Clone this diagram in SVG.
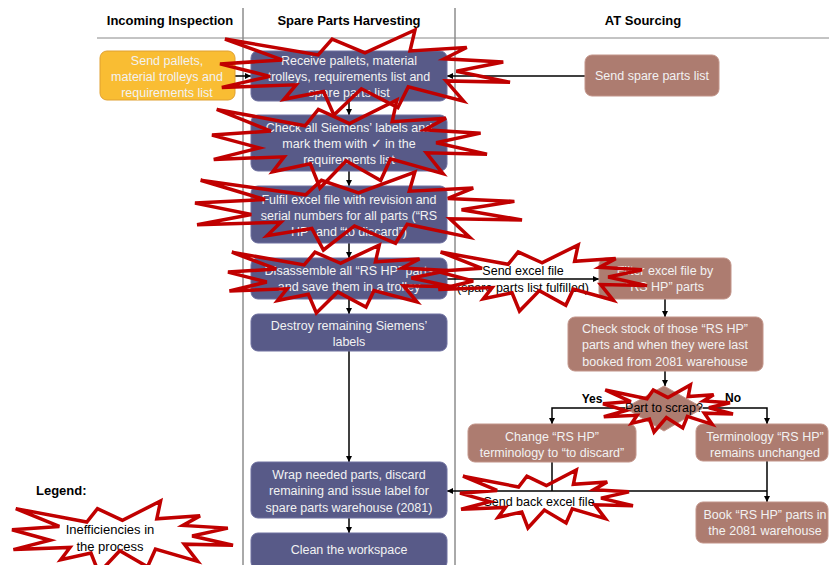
<svg xmlns="http://www.w3.org/2000/svg" xmlns:xlink="http://www.w3.org/1999/xlink" width="829" height="565" viewBox="0 0 829 565">
<defs>
<marker id="arr" viewBox="0 0 10 10" refX="10" refY="5" markerWidth="6" markerHeight="6" orient="auto" markerUnits="userSpaceOnUse">
<path d="M0,0 L10,5 L0,10 Z" fill="#000"/>
</marker>
<path id="burst" vector-effect="non-scaling-stroke" d="M50,26.85 L38.67,10.63 33.85,29.26 1.71,10.63 21.42,35.26 0,39.88 17.23,54.51 0.63,67.53 26.24,64.52 22.05,81.56 35.72,72.35 39.28,100 48.76,69.14 61.33,91.38 64.91,66.93 84,83.77 77.95,59.92 100,61.53 81.51,48.5 97.67,37.67 77.32,33.87 85.09,20.63 65.53,24.65 67.23,0Z"/>
</defs>
<style>
text{font-family:"Liberation Sans",Arial,sans-serif;}
.hd{font-size:13px;font-weight:bold;fill:#000;text-anchor:middle;}
.bx{font-size:12.5px;fill:#F2F2F2;text-anchor:middle;}
.lb{font-size:12.5px;fill:#000;text-anchor:middle;}
.yn{font-size:12px;font-weight:bold;fill:#000;text-anchor:middle;}
.purple{fill:#585A88;stroke:#6E70A0;stroke-width:1;}
.brown{fill:#AD7C70;stroke:#C29489;stroke-width:1;}
.yellow{fill:#F9BD33;stroke:#E0A030;stroke-width:1;}
.lane{stroke:#555;stroke-width:1;fill:none;}
.conn{stroke:#000;stroke-width:1.5;fill:none;}
.arrow{marker-end:url(#arr);}
.star{fill:none;stroke:#C00000;stroke-width:3.5;stroke-linejoin:miter;}
</style>
<rect width="829" height="565" fill="#fff"/>
<g id="lanes">
<line class="lane" x1="243" y1="8" x2="243" y2="565"/>
<line class="lane" x1="455" y1="8" x2="455" y2="565"/>
<line x1="97" y1="38" x2="829" y2="38" stroke="#888" stroke-width="1"/>
<text class="hd" x="170" y="25">Incoming Inspection</text>
<text class="hd" x="349" y="25">Spare Parts Harvesting</text>
<text class="hd" x="643" y="25">AT Sourcing</text>
</g>
<g id="connectors">
<line class="conn arrow" x1="235" y1="76" x2="251" y2="76"/>
<line class="conn arrow" x1="585" y1="76" x2="447" y2="76"/>
<line class="conn arrow" x1="349" y1="101" x2="349" y2="115"/>
<line class="conn arrow" x1="349" y1="171" x2="349" y2="186"/>
<line class="conn arrow" x1="349" y1="243" x2="349" y2="258"/>
<line class="conn arrow" x1="349" y1="299" x2="349" y2="314"/>
<line class="conn arrow" x1="349" y1="351" x2="349" y2="462"/>
<line class="conn arrow" x1="349" y1="518" x2="349" y2="533"/>
<line class="conn arrow" x1="447" y1="279" x2="599" y2="279"/>
<line class="conn arrow" x1="665" y1="299" x2="665" y2="317"/>
<line class="conn arrow" x1="665" y1="371" x2="665" y2="386"/>
<polyline class="conn arrow" points="625,408 552,408 552,424"/>
<polyline class="conn arrow" points="703,408 767,408 767,424"/>
<line class="conn arrow" x1="767" y1="461" x2="767" y2="502"/>
<line class="conn" x1="552" y1="462" x2="552" y2="491"/>
<line class="conn arrow" x1="767" y1="491" x2="447" y2="491"/>
<text class="lb" x="523" y="275">Send excel file</text>
<text class="lb" x="523" y="292">(spare parts list fulfilled)</text>
<text class="yn" x="592" y="403">Yes</text>
<text class="yn" x="733" y="402">No</text>
<text class="lb" x="539" y="506">Send back excel file</text>
</g>
<g id="n-send-pallets">
<rect class="yellow" x="100" y="51" width="135" height="49" rx="7"/>
<text class="bx" x="167" y="64.5">Send pallets,</text>
<text class="bx" x="167" y="80.5">material trolleys and</text>
<text class="bx" x="167" y="96.5">requirements list</text>
</g>
<g id="n-receive">
<rect class="purple" x="251" y="51" width="196" height="50" rx="7"/>
<text class="bx" x="349" y="64.5">Receive pallets, material</text>
<text class="bx" x="349" y="80.5">trolleys, requirements list and</text>
<text class="bx" x="349" y="96.5">spare parts list</text>
</g>
<g id="n-check-labels">
<rect class="purple" x="251" y="115" width="196" height="56" rx="7"/>
<text class="bx" x="349" y="131.5">Check all Siemens’ labels and</text>
<text class="bx" x="349" y="147.5">mark them with ✓ in the</text>
<text class="bx" x="349" y="164">requirements list</text>
</g>
<g id="n-fulfil">
<rect class="purple" x="251" y="186" width="196" height="57" rx="7"/>
<text class="bx" x="349" y="203.5">Fulfil excel file with revision and</text>
<text class="bx" x="349" y="219.5">serial numbers for all parts (“RS</text>
<text class="bx" x="349" y="236">HP” and “to discard”)</text>
</g>
<g id="n-disassemble">
<rect class="purple" x="251" y="258" width="196" height="41" rx="7"/>
<text class="bx" x="349" y="274.5">Disassemble all “RS HP” parts</text>
<text class="bx" x="349" y="291">and save them in a trolley</text>
</g>
<g id="n-destroy">
<rect class="purple" x="251" y="314" width="196" height="37" rx="7"/>
<text class="bx" x="349" y="330">Destroy remaining Siemens’</text>
<text class="bx" x="349" y="346">labels</text>
</g>
<g id="n-wrap">
<rect class="purple" x="251" y="462" width="196" height="56" rx="7"/>
<text class="bx" x="349" y="478.5">Wrap needed parts, discard</text>
<text class="bx" x="349" y="495">remaining and issue label for</text>
<text class="bx" x="349" y="512">spare parts warehouse (2081)</text>
</g>
<g id="n-clean">
<rect class="purple" x="251" y="533" width="196" height="36" rx="7"/>
<text class="bx" x="349" y="553.5">Clean the workspace</text>
</g>
<g id="n-send-spare">
<rect class="brown" x="585" y="55" width="134" height="41" rx="7"/>
<text class="bx" x="652" y="80">Send spare parts list</text>
</g>
<g id="n-filter">
<rect class="brown" x="599" y="258" width="132" height="41" rx="7"/>
<text class="bx" x="665" y="274.5">Filter excel file by</text>
<text class="bx" x="665" y="290.5">“RS HP” parts</text>
</g>
<g id="n-check-stock">
<rect class="brown" x="568" y="317" width="195" height="54" rx="7"/>
<text class="bx" x="665" y="332.5">Check stock of those “RS HP”</text>
<text class="bx" x="665" y="349">parts and when they were last</text>
<text class="bx" x="665" y="366">booked from 2081 warehouse</text>
</g>
<g id="n-decision">
<polygon class="brown" points="664,386 703,408 664,431 625,408"/>
<text class="lb" x="664" y="412">Part to scrap?</text>
</g>
<g id="n-change">
<rect class="brown" x="468" y="424" width="168" height="38" rx="7"/>
<text class="bx" x="552" y="440.5">Change “RS HP”</text>
<text class="bx" x="552" y="456.5">terminology to “to discard”</text>
</g>
<g id="n-unchanged">
<rect class="brown" x="696" y="424" width="132" height="37" rx="7"/>
<text class="bx" x="765" y="440.5">Terminology “RS HP”</text>
<text class="bx" x="765" y="456.5">remains unchanged</text>
</g>
<g id="n-book">
<rect class="brown" x="696" y="502" width="132" height="41" rx="7"/>
<text class="bx" x="765" y="519">Book “RS HP” parts in</text>
<text class="bx" x="765" y="535">the 2081 warehouse</text>
</g>
<g id="legend">
<text x="36" y="495" style="font-size:13px;font-weight:bold;fill:#000">Legend:</text>
<text class="lb" x="110" y="534" style="font-size:13px">Inefficiencies in</text>
<text class="lb" x="110" y="551" style="font-size:13px">the process</text>
</g>
<g id="inefficiencies" class="star">
<use xlink:href="#burst" transform="translate(220,30) scale(2.9,0.85)"/>
<use xlink:href="#burst" transform="translate(212,100) scale(2.75,0.88)"/>
<use xlink:href="#burst" transform="translate(195,172) scale(3.27,0.78)"/>
<use xlink:href="#burst" transform="translate(228,245) scale(2.25,0.68)"/>
<use xlink:href="#burst" transform="translate(437,245) scale(2.1,0.66)"/>
<use xlink:href="#burst" transform="translate(603,385) scale(1.3,0.47)"/>
<use xlink:href="#burst" transform="translate(460,470) scale(1.73,0.58)"/>
<use xlink:href="#burst" transform="translate(12,501) scale(2.21,0.72)"/>
</g>
</svg>
